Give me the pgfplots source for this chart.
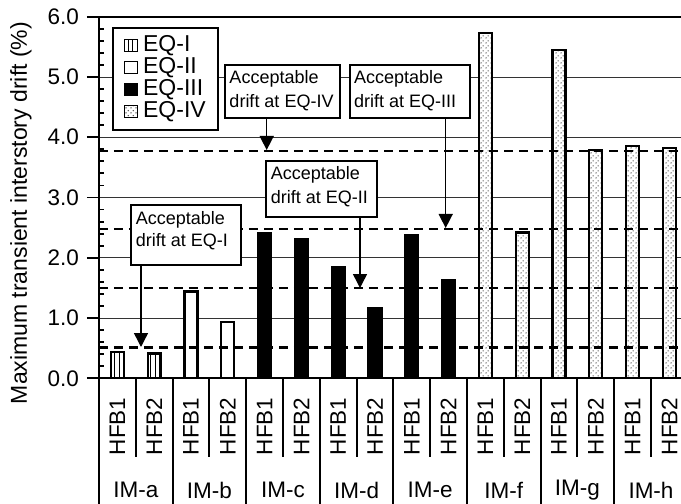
\documentclass[border=0pt]{standalone}
\usepackage{fontspec}
\setmainfont{Liberation Sans}
\usepackage{pgfplots}
\pgfplotsset{compat=1.18}
\usetikzlibrary{patterns,arrows.meta,calc}

\pgfdeclarepatternformonly{sdots}{\pgfqpoint{0pt}{0pt}}{\pgfqpoint{5pt}{5pt}}{\pgfqpoint{5pt}{5pt}}{%
  \pgfpathcircle{\pgfqpoint{1.25pt}{1.25pt}}{0.85pt}%
  \pgfpathcircle{\pgfqpoint{3.75pt}{3.75pt}}{0.85pt}%
  \pgfusepath{fill}}
\pgfdeclarepatternformonly{vlin}{\pgfqpoint{-1pt}{-1pt}}{\pgfqpoint{5.5pt}{5.5pt}}{\pgfqpoint{4.5pt}{4.5pt}}{%
  \pgfsetlinewidth{1pt}%
  \pgfpathmoveto{\pgfqpoint{2.25pt}{-1pt}}\pgfpathlineto{\pgfqpoint{2.25pt}{5.5pt}}\pgfusepath{stroke}}

\newcommand{\fa}{\fontsize{22.5}{26}\selectfont}
\newcommand{\fl}{\fontsize{23}{26}\selectfont}
\newcommand{\fb}{\fontsize{18}{22}\selectfont}

\begin{document}
\begin{tikzpicture}
\begin{axis}[
  scale only axis, width=588.8pt, height=361.6pt,
  xmin=-0.5, xmax=15.5, ymin=0, ymax=6,
  bar width=13pt, bar shift=0pt,
  ytick={0,1,2,3,4,5,6}, minor y tick num=4,
  ytick pos=left,
  /pgf/number format/fixed, /pgf/number format/fixed zerofill,
  /pgf/number format/precision=1, /pgf/number format/assume math mode=true,
  yticklabel style={font=\fa, inner sep=0pt, xshift=-8pt},
  xtick={0,...,15},
  xticklabels={HFB1,HFB2,HFB1,HFB2,HFB1,HFB2,HFB1,HFB2,HFB1,HFB2,HFB1,HFB2,HFB1,HFB2,HFB1,HFB2},
  xtick style={draw=none},
  xtick pos=bottom,
  xticklabel style={font=\fa, rotate=90, anchor=east, inner sep=0pt},
  xticklabel shift=7pt,
  tick align=outside,
  major tick length=12pt, minor tick length=-5pt,
  every tick/.style={black, line width=1.8pt},
  axis line style={line width=2.2pt},
  ymajorgrids, major grid style={black!80, line width=0.8pt},
  ylabel={Maximum transient interstory drift (\%)},
  ylabel style={font=\fontsize{23}{26}\selectfont, at={(axis description cs:-0.1325,0.457)}, anchor=center},
  legend style={at={(axis description cs:0.0216,0.972)}, anchor=north west,
    draw=black, line width=1.8pt, fill=white,
    nodes={font=\fl, inner sep=1pt, text height=15.5pt, text depth=4.5pt},
    column sep=4pt,
    inner xsep=11pt, inner ysep=7pt},
  legend cell align=left,
  legend image code/.code={\draw[#1, line width=1.5pt] (0pt,-6pt) rectangle (13pt,6pt);},
  clip=false,
]
\addplot[ybar, draw=black, line width=2.2pt, fill=white, postaction={pattern=vlin}]
  coordinates {(0,0.43) (1,0.41)};
\addplot[ybar, draw=black, line width=2.2pt, fill=white]
  coordinates {(2,1.44) (3,0.93)};
\addplot[ybar, draw=black, line width=2.2pt, fill=black]
  coordinates {(4,2.41) (5,2.31) (6,1.85) (7,1.17) (8,2.38) (9,1.63)};
\addplot[ybar, draw=black, line width=2.2pt, fill=white, postaction={pattern=sdots, pattern color=black!70}]
  coordinates {(10,5.73) (11,2.42) (12,5.45) (13,3.79) (14,3.86) (15,3.82)};
\legend{EQ-I,EQ-II,EQ-III,EQ-IV}
\addplot[forget plot, black, line width=2.2pt, dash pattern=on 9pt off 6pt] coordinates {(-0.5,0.51) (15.5,0.51)};
\addplot[forget plot, black, line width=2.2pt, dash pattern=on 9pt off 6pt] coordinates {(-0.5,1.50) (15.5,1.50)};
\addplot[forget plot, black, line width=2.2pt, dash pattern=on 9pt off 6pt] coordinates {(-0.5,2.48) (15.5,2.48)};
\addplot[forget plot, black, line width=2.2pt, dash pattern=on 9pt off 6pt] coordinates {(-0.5,3.77) (15.5,3.77)};
\node[font=\fa, anchor=center] at (axis cs:0.5,0) [yshift=-111.7pt] {IM-a};
\node[font=\fa, anchor=center] at (axis cs:2.5,0) [yshift=-111.7pt] {IM-b};
\node[font=\fa, anchor=center] at (axis cs:4.5,0) [yshift=-111.7pt] {IM-c};
\node[font=\fa, anchor=center] at (axis cs:6.5,0) [yshift=-111.7pt] {IM-d};
\node[font=\fa, anchor=center] at (axis cs:8.5,0) [yshift=-111.7pt] {IM-e};
\node[font=\fa, anchor=center] at (axis cs:10.5,0) [yshift=-111.7pt] {IM-f};
\node[font=\fa, anchor=center] at (axis cs:12.5,0) [yshift=-111.7pt] {IM-g};
\node[font=\fa, anchor=center] at (axis cs:14.5,0) [yshift=-111.7pt] {IM-h};
\coordinate (O) at (rel axis cs:0,0);
\end{axis}
\begin{scope}[shift={($(O)+(-99pt,378.3pt)$)}, x=1pt, y=-1pt]
  % two-level category table
  \draw[line width=2pt] (99,378.3) -- (99,504);
  \foreach \xx in {172.6,246.2,319.8,393.4,467,540.6,614.2}
    \draw[line width=2pt] (\xx,378.3) -- (\xx,504);
  \foreach \xx in {135.8,209.4,283,356.6,430.2,503.8,577.4,651}
    \draw[line width=2pt] (\xx,378.3) -- (\xx,456.7);
  % annotation boxes
  \tikzset{abox/.style={draw=black, fill=white, line width=1.8pt},
           atext/.style={font=\fb, inner sep=0pt, anchor=base west},
           aarr/.style={line width=1.5pt, -{Triangle[width=14pt,length=14pt]}}}
  \draw[abox] (225,65) rectangle (340,118.3);
  \node[atext] at (229.3,84) {Acceptable};
  \node[atext] at (229.3,108) {drift at EQ-IV};
  \draw[aarr] (266.7,118.3) -- (266.7,150);
  \draw[abox] (350,65) rectangle (470,118.3);
  \node[atext] at (354,84) {Acceptable};
  \node[atext] at (354,108) {drift at EQ-III};
  \draw[aarr] (445.7,118.3) -- (445.7,228);
  \draw[abox] (266,160.7) rectangle (376.7,216.7);
  \node[atext] at (270.7,180) {Acceptable};
  \node[atext] at (270.7,203.3) {drift at EQ-II};
  \draw[aarr] (360,216.7) -- (360,288);
  \draw[abox] (131,205) rectangle (240.7,265);
  \node[atext] at (135.7,224.3) {Acceptable};
  \node[atext] at (135.7,246.7) {drift at EQ-I};
  \draw[aarr] (141,265) -- (141,347);
  \pgfresetboundingbox
  \path[use as bounding box] (0,0) rectangle (681,504);
\end{scope}
\end{tikzpicture}
\end{document}
